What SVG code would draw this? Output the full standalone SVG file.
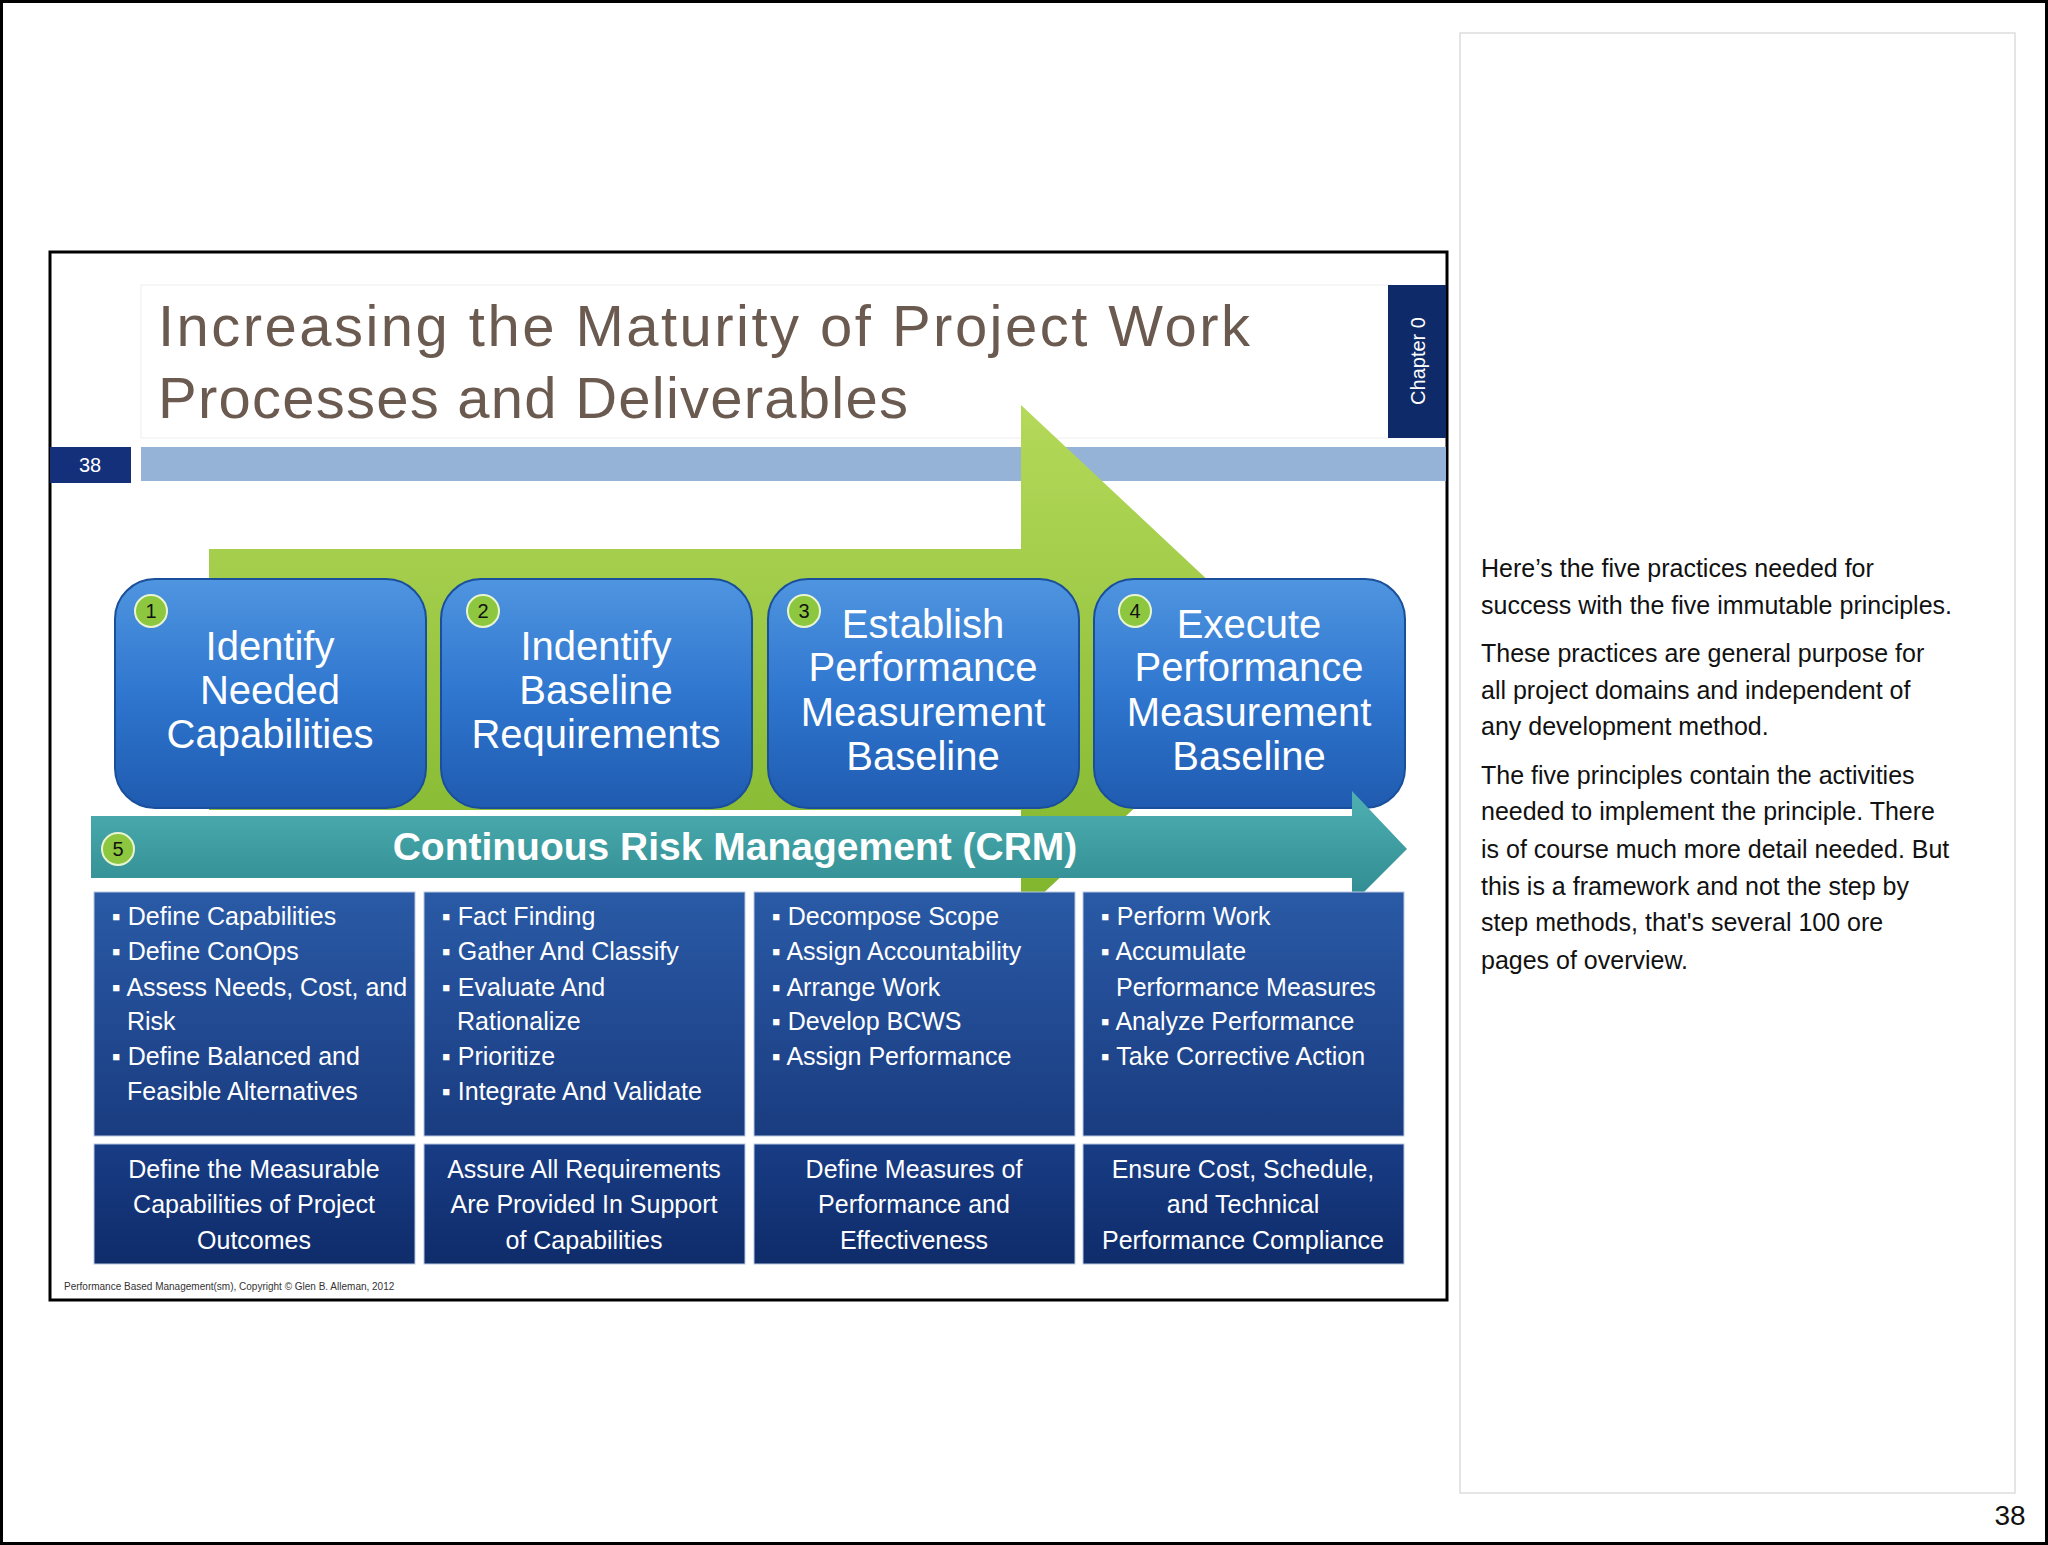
<svg xmlns="http://www.w3.org/2000/svg" width="2048" height="1545" viewBox="0 0 2048 1545">
<defs>
<linearGradient id="gArrow" x1="0" y1="0" x2="0" y2="1"><stop offset="0" stop-color="#b5d95a"/><stop offset="1" stop-color="#7fb52c"/></linearGradient>
<linearGradient id="gBlue" x1="0" y1="0" x2="0" y2="1"><stop offset="0" stop-color="#4f95e0"/><stop offset="0.5" stop-color="#2f76cf"/><stop offset="1" stop-color="#1f5bb0"/></linearGradient>
<linearGradient id="gDark" x1="0" y1="0" x2="0" y2="1"><stop offset="0" stop-color="#2a5aa6"/><stop offset="1" stop-color="#1a3c80"/></linearGradient>
<linearGradient id="gNavy" x1="0" y1="0" x2="0" y2="1"><stop offset="0" stop-color="#183c85"/><stop offset="1" stop-color="#0f2c6a"/></linearGradient>
<linearGradient id="gTeal" x1="0" y1="0" x2="0" y2="1"><stop offset="0" stop-color="#4fb0b2"/><stop offset="1" stop-color="#2e8a90"/></linearGradient>
</defs>
<style>
text{font-family:"Liberation Sans","DejaVu Sans",sans-serif}
.big{fill:#fff;font-size:40px;text-anchor:middle}
.bul{fill:#fff;font-size:25px}
.bot{fill:#fff;font-size:25px;text-anchor:middle}
.num{fill:#111;font-size:20px;text-anchor:middle}
.side{fill:#111;font-size:25px}
.circ{fill:#8dc63f;stroke:#e8f5d0;stroke-width:2}
</style>
<rect x="1.5" y="1.5" width="2045" height="1542" fill="#fff" stroke="#000" stroke-width="3"/>
<rect x="1460" y="33" width="555" height="1460" fill="#fff" stroke="#ddd" stroke-width="1.5"/>
<g id="slide">
<rect x="50" y="252" width="1397" height="1048" fill="#fff" stroke="#000" stroke-width="3"/>
<rect x="141" y="285" width="1250" height="153" fill="#fff" stroke="#eee"/>
<text x="158" y="346" font-size="58" fill="#6b5a50" textLength="1092">Increasing the Maturity of Project Work</text>
<text x="158" y="418" font-size="58" fill="#6b5a50" textLength="750">Processes and Deliverables</text>
<rect x="1388" y="285" width="58" height="153" fill="#0f2a68"/>
<text transform="translate(1425,361) rotate(-90)" text-anchor="middle" font-size="20" fill="#fff">Chapter 0</text>
<rect x="50" y="447" width="81" height="36" fill="#14307a"/>
<text x="90" y="472" text-anchor="middle" font-size="20" fill="#fff">38</text>
<rect x="141" y="447" width="1305" height="34" fill="#94b3d6"/>
</g>
<g id="green-arrow"><polygon points="209,549 1021,549 1021,405 1293,660 1021,914 1021,810 209,810" fill="url(#gArrow)"/></g>
<g id="n1"><rect x="115" y="579" width="311" height="229" rx="40" fill="url(#gBlue)" stroke="#1a4f9c" stroke-width="2"/><circle class="circ" cx="151" cy="611" r="16"/><text class="num" x="151" y="618">1</text>
<text class="big" x="270" y="660">Identify</text><text class="big" x="270" y="704">Needed</text><text class="big" x="270" y="748">Capabilities</text></g>
<g id="n2"><rect x="441" y="579" width="311" height="229" rx="40" fill="url(#gBlue)" stroke="#1a4f9c" stroke-width="2"/><circle class="circ" cx="483" cy="611" r="16"/><text class="num" x="483" y="618">2</text>
<text class="big" x="596" y="660">Indentify</text><text class="big" x="596" y="704">Baseline</text><text class="big" x="596" y="748">Requirements</text></g>
<g id="n3"><rect x="768" y="579" width="311" height="229" rx="40" fill="url(#gBlue)" stroke="#1a4f9c" stroke-width="2"/><circle class="circ" cx="804" cy="611" r="16"/><text class="num" x="804" y="618">3</text>
<text class="big" x="923" y="638">Establish</text><text class="big" x="923" y="681">Performance</text><text class="big" x="923" y="726">Measurement</text><text class="big" x="923" y="770">Baseline</text></g>
<g id="n4"><rect x="1094" y="579" width="311" height="229" rx="40" fill="url(#gBlue)" stroke="#1a4f9c" stroke-width="2"/><circle class="circ" cx="1135" cy="611" r="16"/><text class="num" x="1135" y="618">4</text>
<text class="big" x="1249" y="638">Execute</text><text class="big" x="1249" y="681">Performance</text><text class="big" x="1249" y="726">Measurement</text><text class="big" x="1249" y="770">Baseline</text></g>
<g id="crm"><polygon points="91,816 1352,816 1352,791 1407,849 1352,904 1352,878 91,878" fill="url(#gTeal)"/>
<circle class="circ" cx="118" cy="849" r="16"/><text class="num" x="118" y="856">5</text>
<text x="735" y="860" text-anchor="middle" font-size="39" font-weight="bold" fill="#fff">Continuous Risk Management (CRM)</text></g>
<g id="b1"><rect x="94" y="892" width="321" height="244" fill="url(#gDark)" stroke="#b8c8e0"/>
<text class="bul" x="112" y="925">▪ Define Capabilities</text><text class="bul" x="112" y="960">▪ Define ConOps</text><text class="bul" x="112" y="996">▪ Assess Needs, Cost, and</text><text class="bul" x="127" y="1030">Risk</text><text class="bul" x="112" y="1065">▪ Define Balanced and</text><text class="bul" x="127" y="1100">Feasible Alternatives</text></g>
<g id="b2"><rect x="424" y="892" width="321" height="244" fill="url(#gDark)" stroke="#b8c8e0"/>
<text class="bul" x="442" y="925">▪ Fact Finding</text><text class="bul" x="442" y="960">▪ Gather And Classify</text><text class="bul" x="442" y="996">▪ Evaluate And</text><text class="bul" x="457" y="1030">Rationalize</text><text class="bul" x="442" y="1065">▪ Prioritize</text><text class="bul" x="442" y="1100">▪ Integrate And Validate</text></g>
<g id="b3"><rect x="754" y="892" width="321" height="244" fill="url(#gDark)" stroke="#b8c8e0"/>
<text class="bul" x="772" y="925">▪ Decompose Scope</text><text class="bul" x="772" y="960">▪ Assign Accountability</text><text class="bul" x="772" y="996">▪ Arrange Work</text><text class="bul" x="772" y="1030">▪ Develop BCWS</text><text class="bul" x="772" y="1065">▪ Assign Performance</text></g>
<g id="b4"><rect x="1083" y="892" width="321" height="244" fill="url(#gDark)" stroke="#b8c8e0"/>
<text class="bul" x="1101" y="925">▪ Perform Work</text><text class="bul" x="1101" y="960">▪ Accumulate</text><text class="bul" x="1116" y="996">Performance Measures</text><text class="bul" x="1101" y="1030">▪ Analyze Performance</text><text class="bul" x="1101" y="1065">▪ Take Corrective Action</text></g>
<g id="o1"><rect x="94" y="1144" width="321" height="120" fill="url(#gNavy)" stroke="#b8c8e0"/>
<text class="bot" x="254" y="1178">Define the Measurable</text><text class="bot" x="254" y="1213">Capabilities of Project</text><text class="bot" x="254" y="1249">Outcomes</text></g>
<g id="o2"><rect x="424" y="1144" width="321" height="120" fill="url(#gNavy)" stroke="#b8c8e0"/>
<text class="bot" x="584" y="1178">Assure All Requirements</text><text class="bot" x="584" y="1213">Are Provided In Support</text><text class="bot" x="584" y="1249">of Capabilities</text></g>
<g id="o3"><rect x="754" y="1144" width="321" height="120" fill="url(#gNavy)" stroke="#b8c8e0"/>
<text class="bot" x="914" y="1178">Define Measures of</text><text class="bot" x="914" y="1213">Performance and</text><text class="bot" x="914" y="1249">Effectiveness</text></g>
<g id="o4"><rect x="1083" y="1144" width="321" height="120" fill="url(#gNavy)" stroke="#b8c8e0"/>
<text class="bot" x="1243" y="1178">Ensure Cost, Schedule,</text><text class="bot" x="1243" y="1213">and Technical</text><text class="bot" x="1243" y="1249">Performance Compliance</text></g>
<g id="connectors"></g>
<text x="64" y="1290" font-size="10" fill="#333">Performance Based Management(sm), Copyright © Glen B. Alleman, 2012</text>
<g id="notes">
<text class="side" x="1481" y="577">Here’s the five practices needed for</text>
<text class="side" x="1481" y="614">success with the five immutable principles.</text>
<text class="side" x="1481" y="662">These practices are general purpose for</text>
<text class="side" x="1481" y="699">all project domains and independent of</text>
<text class="side" x="1481" y="735">any development method.</text>
<text class="side" x="1481" y="784">The five principles contain the activities</text>
<text class="side" x="1481" y="820">needed to implement the principle. There</text>
<text class="side" x="1481" y="858">is of course much more detail needed. But</text>
<text class="side" x="1481" y="895">this is a framework and not the step by</text>
<text class="side" x="1481" y="931">step methods, that's several 100 ore</text>
<text class="side" x="1481" y="969">pages of overview.</text>
</g>
<text x="2010" y="1525" text-anchor="middle" font-size="28" fill="#111">38</text>
</svg>
